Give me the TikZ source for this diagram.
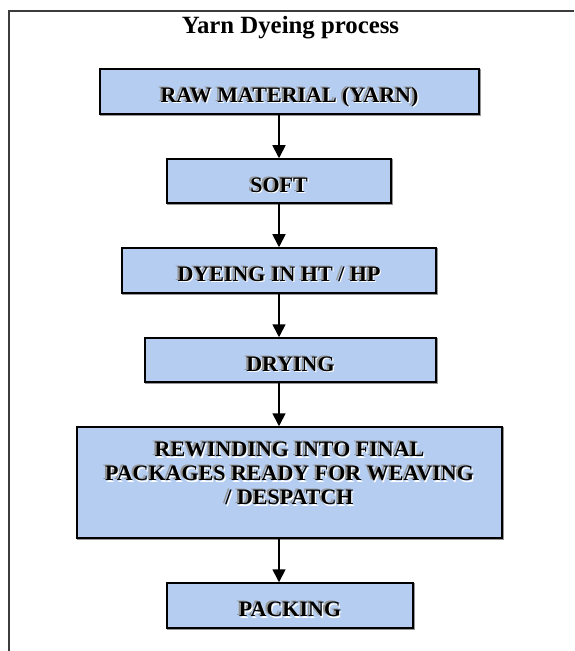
\documentclass[tikz,border=0pt]{standalone}
\usepackage{fontspec}
\setmainfont{Liberation Serif}
\usetikzlibrary{arrows.meta}
\definecolor{boxblue}{RGB}{181,205,241}
\definecolor{shadowgray}{RGB}{150,150,150}
\definecolor{framegray}{RGB}{60,60,60}
\newcommand\emb[1]{\leavevmode\rlap{\hspace{-1.1pt}\raisebox{0.5pt}{\textcolor{shadowgray}{#1}}}\rlap{\hspace{0.6pt}\raisebox{-0.6pt}{\textcolor{white}{#1}}}#1}
\newcommand\lowtxt[1]{\raisebox{-2pt}[\height][\depth]{\emb{#1}}}
\tikzset{
  stepbox/.style={rectangle, draw=black, line width=0.75pt, fill=boxblue,
    inner sep=0pt, font=\fontsize{11}{12}\selectfont\bfseries,
    preaction={draw=shadowgray, line width=0.75pt, transform canvas={shift={(0.5pt,-0.5pt)}}}},
  onebox/.style={stepbox, text height=7.3pt, text depth=0pt},
  flow/.style={line width=0.85pt, -{Triangle[width=6.5pt,length=6.5pt]}},
  frame/.style={line width=0.6pt, draw=framegray}
}
\begin{document}
\begin{tikzpicture}[x=0.5pt,y=-0.5pt]
\useasboundingbox (0,0) rectangle (574,651);
\draw[frame] (574,11) -- (9,11) -- (9,651);
\node[anchor=base, font=\fontsize{12.4}{14}\selectfont\bfseries] (title) at (290.5,34) {Yarn Dyeing process};
\node[onebox, minimum width=189.5pt, minimum height=22.5pt] (b1) at (289.5,91.5) {\lowtxt{RAW MATERIAL (YARN)}};
\node[onebox, minimum width=112pt, minimum height=22pt] (b2) at (279,181) {\lowtxt{SOFT}};
\node[onebox, minimum width=157pt, minimum height=22.5pt] (b3) at (279,270.5) {\lowtxt{DYEING IN HT / HP}};
\node[onebox, minimum width=145.5pt, minimum height=22pt] (b4) at (290.5,360) {\lowtxt{DRYING}};
\node[stepbox, minimum width=212.5pt, minimum height=55.5pt] (b5) at (289.5,482.5)
  {\raisebox{3.25pt}[\height][\depth]{\begin{tabular}{@{}c@{}}\emb{REWINDING INTO FINAL}\\ \emb{PACKAGES READY FOR WEAVING}\\ \emb{/ DESPATCH}\end{tabular}}};
\node[onebox, minimum width=123pt, minimum height=22.5pt] (b6) at (290,605.5) {\lowtxt{PACKING}};
\coordinate (ax) at (279,0);
\draw[flow] (b1.south -| ax) -- (b2.north -| ax);
\draw[flow] (b2.south -| ax) -- (b3.north -| ax);
\draw[flow] (b3.south -| ax) -- (b4.north -| ax);
\draw[flow] (b4.south -| ax) -- (b5.north -| ax);
\draw[flow] (b5.south -| ax) -- (b6.north -| ax);
\end{tikzpicture}
\end{document}
